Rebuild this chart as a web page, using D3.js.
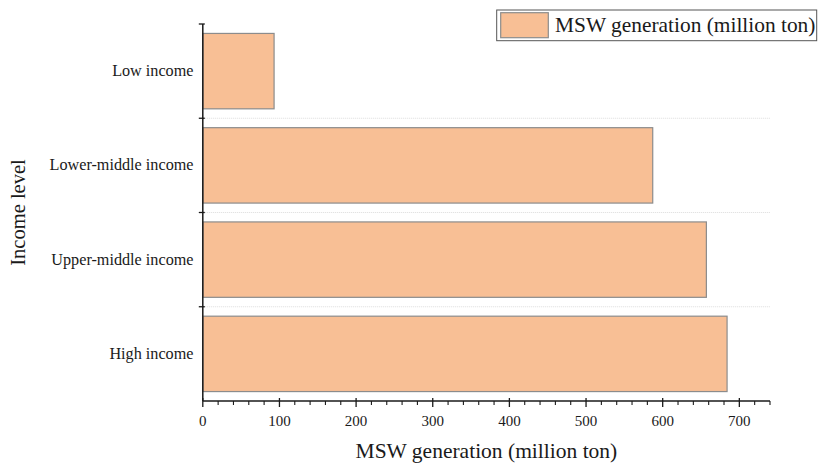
<!DOCTYPE html>
<html>
<head>
<meta charset="utf-8">
<script src="https://cdn.jsdelivr.net/npm/d3@7"></script>
<style>
    body { margin: 0; background: #fff; }
    text { font-family: "Liberation Serif", "Times New Roman", serif; fill: #1a1a1a; }
</style>
</head>
<body>
<svg id="chart" width="819" height="463"></svg>
<script>
var categories = ["Low income", "Lower-middle income", "Upper-middle income", "High income"],
    mswValues = [93, 587, 657, 684],
    majorTicks = [0, 100, 200, 300, 400, 500, 600, 700],
    seriesName = "MSW generation (million ton)",
    xTitle = "MSW generation (million ton)",
    yTitle = "Income level";

var svg = d3.select("#chart"),
    plotLeft = 202.8,
    plotRight = 770,
    plotTop = 24,
    plotBottom = 401,
    barFill = "#f8bf95",
    barStroke = "#8c8c8c";

var x = d3.scaleLinear().domain([0, 740]).range([plotLeft, plotRight]);
var y = d3.scaleBand().domain(categories).range([plotTop, plotBottom])
    .paddingInner(0.2).paddingOuter(0.1);

//band boundaries for y ticks and dotted grid
var step = y.step(),
    bounds = categories.map(function (c) { return y(c) - step * 0.1; });

svg.selectAll("line.grid")
    .data(bounds.slice(1))
    .enter().append("line")
    .attr("class", "grid")
    .attr("x1", plotLeft).attr("x2", plotRight)
    .attr("y1", function (d) { return d; }).attr("y2", function (d) { return d; })
    .attr("stroke", "#dcdcdc")
    .attr("stroke-width", 1)
    .attr("stroke-dasharray", "1,1");

//bars
svg.selectAll("rect.bar")
    .data(mswValues)
    .enter().append("rect")
    .attr("class", "bar")
    .attr("x", x(0))
    .attr("y", function (d, i) { return y(categories[i]); })
    .attr("width", function (d) { return x(d) - x(0); })
    .attr("height", y.bandwidth())
    .attr("fill", barFill)
    .attr("stroke", barStroke)
    .attr("stroke-width", 1.2);

//x axis with major and minor ticks
var minorTicks = d3.range(0, 741, 20).filter(function (v) { return v % 100 !== 0; });
svg.append("line")
    .attr("x1", plotLeft).attr("x2", plotRight)
    .attr("y1", plotBottom).attr("y2", plotBottom)
    .attr("stroke", "#1a1a1a").attr("stroke-width", 1.5);
svg.selectAll("line.xmajor")
    .data(majorTicks)
    .enter().append("line")
    .attr("class", "xmajor")
    .attr("x1", function (d) { return x(d); }).attr("x2", function (d) { return x(d); })
    .attr("y1", plotBottom - 3).attr("y2", plotBottom + 6)
    .attr("stroke", "#1a1a1a").attr("stroke-width", 1.3);
svg.selectAll("line.xminor")
    .data(minorTicks)
    .enter().append("line")
    .attr("class", "xminor")
    .attr("x1", function (d) { return x(d); }).attr("x2", function (d) { return x(d); })
    .attr("y1", plotBottom).attr("y2", plotBottom + 4)
    .attr("stroke", "#1a1a1a").attr("stroke-width", 1.1);
svg.selectAll("text.xlabel")
    .data(majorTicks)
    .enter().append("text")
    .attr("class", "xlabel")
    .attr("x", function (d) { return x(d); })
    .attr("y", 426)
    .attr("text-anchor", "middle")
    .attr("font-size", 15)
    .text(function (d) { return d; });

//y axis
svg.append("line")
    .attr("x1", plotLeft).attr("x2", plotLeft)
    .attr("y1", plotTop).attr("y2", plotBottom)
    .attr("stroke", "#1a1a1a").attr("stroke-width", 1.5);
svg.selectAll("line.ytick")
    .data(bounds)
    .enter().append("line")
    .attr("class", "ytick")
    .attr("x1", plotLeft - 4).attr("x2", plotLeft + 2)
    .attr("y1", function (d) { return d; }).attr("y2", function (d) { return d; })
    .attr("stroke", "#1a1a1a").attr("stroke-width", 1.3);
svg.selectAll("text.ylabel")
    .data(categories)
    .enter().append("text")
    .attr("class", "ylabel")
    .attr("x", 193.5)
    .attr("y", function (d) { return y(d) + y.bandwidth() / 2 + 5; })
    .attr("text-anchor", "end")
    .attr("font-size", 16.2)
    .text(function (d) { return d; });

//axis titles
svg.append("text")
    .attr("x", (plotLeft + plotRight) / 2)
    .attr("y", 458)
    .attr("text-anchor", "middle")
    .attr("font-size", 21.5)
    .text(xTitle);
svg.append("text")
    .attr("transform", "translate(25," + ((plotTop + plotBottom) / 2) + ") rotate(-90)")
    .attr("text-anchor", "middle")
    .attr("font-size", 20.5)
    .text(yTitle);

//legend
var legend = svg.append("g");
legend.append("rect")
    .attr("x", 496.7).attr("y", 10)
    .attr("width", 320).attr("height", 30.7)
    .attr("fill", "#fff")
    .attr("stroke", "#555").attr("stroke-width", 1);
legend.append("rect")
    .attr("x", 500.7).attr("y", 12.7)
    .attr("width", 47.6).attr("height", 25)
    .attr("fill", barFill)
    .attr("stroke", barStroke).attr("stroke-width", 1.2);
legend.append("text")
    .attr("x", 555)
    .attr("y", 32)
    .attr("font-size", 21.4)
    .text(seriesName);
</script>
</body>
</html>
